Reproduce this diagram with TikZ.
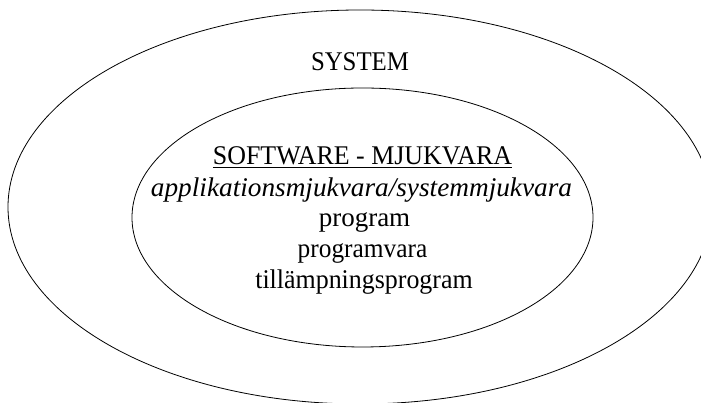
\documentclass[tikz,border=0pt]{standalone}
\usepackage{fontspec}
\setmainfont{Liberation Serif}
\begin{document}
\begin{tikzpicture}[x=1pt,y=1pt,
  ring/.style={draw=black,line width=0.8pt},
  lbl/.style={anchor=base,inner sep=0pt,font=\fontsize{27}{31}\selectfont}]
\useasboundingbox (0,0) rectangle (701,403);
\clip (0,0) rectangle (701,403);
\draw[ring] (360,196) ellipse [x radius=352, y radius=197];
\draw[ring] (362.5,185.5) ellipse [x radius=230.5, y radius=129.5];
\node[lbl] (sys) at (360,332) {\scalebox{0.92}[1]{SYSTEM}};
\node[lbl] (sw) at (362.5,238) {\scalebox{0.96}[1]{\underline{SOFTWARE - MJUKVARA}}};
\node[lbl] (app) at (361.5,206.5) {\scalebox{1.01}[1]{\itshape applikationsmjukvara/systemmjukvara}};
\node[lbl] (prog) at (364.5,176) {program};
\node[lbl] (progv) at (362.5,145) {\scalebox{0.94}[1]{programvara}};
\node[lbl] (till) at (364,114) {\scalebox{0.96}[1]{tillämpningsprogram}};
\end{tikzpicture}
\end{document}
